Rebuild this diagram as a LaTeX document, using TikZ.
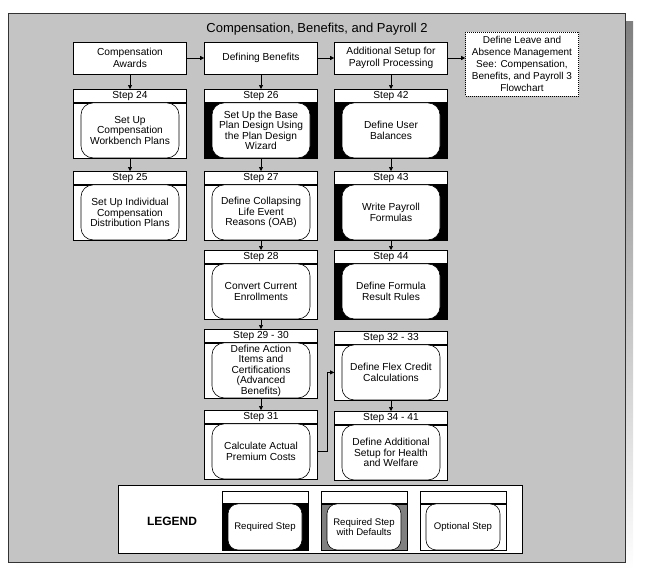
\documentclass[tikz,border=0pt]{standalone}
\usepackage{fontspec}
\setmainfont{Liberation Sans}
\usepackage{tikz}
\usetikzlibrary{arrows.meta}
\usetikzlibrary{calc}
\definecolor{panel}{gray}{0.77}
\definecolor{shade}{gray}{0.5}
\tikzstyle{arr}=[line width=.6pt,-{Triangle[length=4pt,width=4pt]}]
\tikzstyle{phase}=[draw,fill=white,line width=.6pt,minimum width=113pt,minimum height=32pt,inner sep=1pt,align=center,font=\fontsize{10.2}{11.5}\selectfont]
\tikzstyle{hdr} =[draw,fill=white,line width=.6pt,minimum width=113pt,minimum height=13pt,inner sep=0pt,anchor=north]
\tikzstyle{body}=[draw,line width=.6pt,minimum width=113pt,minimum height=55pt,inner sep=0pt,anchor=north]
\tikzstyle{task}=[draw,fill=white,line width=.6pt,rounded corners=12pt,minimum width=98pt,minimum height=55pt,inner sep=0pt,align=center]
\newcommand\stepbox[6]{%
  \node[hdr] (#1h) at (#2,#3) {Step #4};
  \node[body,fill=#6] (#1) at (#1h.south) {};
  \node[task] (#1t) at (#1) {#5};
}
\newcommand\legendbox[4]{%
  \node[hdr,minimum width=86pt,minimum height=12pt] (#1h) at (#2,491) {};
  \node[body,fill=#4,minimum width=86pt,minimum height=46pt] (#1) at (#1h.south) {};
  \node[task,minimum width=74pt,minimum height=46pt,rounded corners=10pt,font=\fontsize{9.6}{10.6}\selectfont] (#1t) at (#1) {#3};
}

\begin{document}
\begin{tikzpicture}[x=1pt,y=-1pt,every node/.style={font=\fontsize{10.2}{10.5}\selectfont}]
	\useasboundingbox (0,0) rectangle (645,574);
	\fill[shade] (16,21) rectangle (633,570);
	\draw[fill=panel,line width=.8pt,draw=black!80] (8,13) rectangle (625,562);
	\node[font=\fontsize{13}{15}\selectfont] (title) at (317,29) {Compensation, Benefits, and Payroll 2};
	% phases
	\node[phase] (ca) at (130,58) {Compensation\\Awards};
	\node[phase] (db) at (261,58) {Defining Benefits};
	\node[phase] (as) at (391,58) {Additional Setup for\\Payroll Processing};
	\node[phase,dash pattern=on 1pt off 1pt,minimum height=64pt,font=\fontsize{10}{12}\selectfont] (leave) at (522,64)
	  {Define Leave and\\Absence Management\\See: Compensation,\\Benefits, and Payroll 3\\Flowchart};
	% steps
	\stepbox{s24}{130}{89}{24}{Set Up\\Compensation\\Workbench Plans}{white}
	\stepbox{s25}{130}{171}{25}{Set Up Individual\\Compensation\\Distribution Plans}{white}
	\stepbox{s26}{261}{89}{26}{Set Up the Base\\Plan Design Using\\the Plan Design\\Wizard}{black}
	\stepbox{s27}{261}{171}{27}{Define Collapsing\\Life Event\\Reasons (OAB)}{white}
	\stepbox{s28}{261}{250}{28}{Convert Current\\Enrollments}{white}
	\stepbox{s29}{261}{329}{29 - 30}{Define Action\\Items and\\Certifications\\(Advanced\\Benefits)}{white}
	\stepbox{s31}{261}{410}{31}{Calculate Actual\\Premium Costs}{white}
	\stepbox{s42}{391}{89}{42}{Define User\\Balances}{black}
	\stepbox{s43}{391}{171}{43}{Write Payroll\\Formulas}{black}
	\stepbox{s44}{391}{250}{44}{Define Formula\\Result Rules}{black}
	\stepbox{s32}{391}{331}{32 - 33}{Define Flex Credit\\Calculations}{white}
	\stepbox{s34}{391}{411}{34 - 41}{Define Additional\\Setup for Health\\and Welfare}{white}
	% connectors
	\draw[arr] (ca) -- (db);
	\draw[arr] (db) -- (as);
	\draw[arr] (as.east) -- (as.east -| leave.west);
	\foreach \a/\b in {ca/s24h,s24/s25h,db/s26h,s26/s27h,s27/s28h,s28/s29h,s29/s31h,as/s42h,s42/s43h,s43/s44h,s32/s34h}
	  \draw[arr] (\a) -- (\b);
	\draw[arr] (s31.east) -- ++(9,0) |- (s32.west);
	% legend
	\node[draw,fill=white,line width=.6pt,minimum width=404pt,minimum height=68pt] (legend) at (320,519) {};
	\node[font=\bfseries\fontsize{12}{14}\selectfont] (lgd) at (172,521) {LEGEND};
	\legendbox{req}{265}{Required Step}{black}
	\legendbox{def}{364}{Required Step\\with Defaults}{shade}
	\legendbox{opt}{463}{Optional Step}{white}
\end{tikzpicture}
\end{document}
